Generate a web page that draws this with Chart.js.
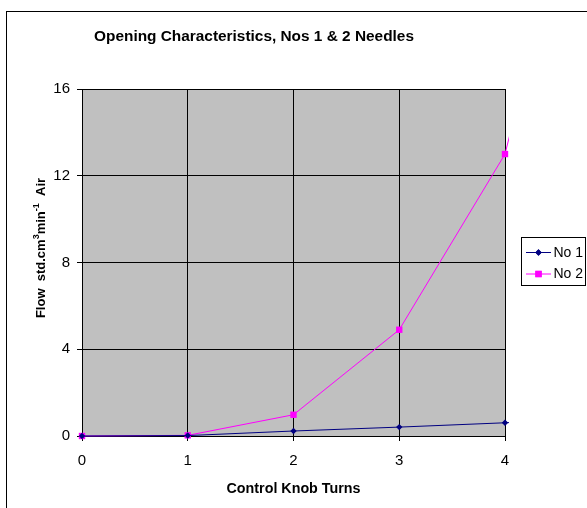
<!DOCTYPE html>
<html>
<head>
<meta charset="utf-8">
<script src="https://cdn.jsdelivr.net/npm/chart.js@4/dist/chart.umd.min.js"></script>
<style>
  html, body { margin: 0; padding: 0; background: #fff; }
  #wrap { width: 587px; height: 508px; }
</style>
</head>
<body>
<div id="wrap"><canvas id="c" width="587" height="508"></canvas></div>
<script>
// ---- data ----
const turns = [0, 1, 2, 3, 4, 5];
const no1 = [0, 0.02, 0.23, 0.41, 0.61, 0.82];
const no2 = [0, 0.03, 0.98, 4.9, 13.0, 32.5];
const seriesNames = ['No 1', 'No 2'];
const xTicks = [0, 1, 2, 3, 4];
const yTicks = [0, 4, 8, 12, 16];
const chartTitle = 'Opening Characteristics, Nos 1 & 2 Needles';
const xTitle = 'Control Knob Turns';
const yTitleParts = [['Flow  std.cm', false], ['3', true], ['min', false], ['-1', true], ['  Air', false]];

const FONT = '"Liberation Sans", Arial, sans-serif';
const colors = ['#000080', '#FF00FF'];
const styles = ['rectRot', 'rect'];
const radii = [3.2, 4.5];

const toXY = (vals) => turns.map((t, i) => ({ x: t, y: vals[i] }));

const decor = {
  id: 'decor',
  beforeDraw(chart) {
    const { ctx, chartArea: a } = chart;
    ctx.save();
    ctx.fillStyle = '#fff';
    ctx.fillRect(0, 0, chart.width, chart.height);
    ctx.fillStyle = '#C0C0C0';
    ctx.fillRect(a.left, a.top, a.right - a.left, a.bottom - a.top);
    ctx.strokeStyle = '#000';
    ctx.lineWidth = 1;
    ctx.strokeRect(6.5, 11.5, 800, 800);
    ctx.restore();
  },
  afterDraw(chart) {
    const { ctx, chartArea: a } = chart;
    ctx.save();
    ctx.fillStyle = '#000';
    // chart title
    ctx.font = 'bold 15.4px ' + FONT;
    ctx.textAlign = 'center';
    ctx.textBaseline = 'alphabetic';
    ctx.fillText(chartTitle, 254, 41);
    // x axis title
    ctx.font = 'bold 14.3px ' + FONT;
    ctx.fillText(xTitle, (a.left + a.right) / 2, 493);
    // y axis title (rotated, with superscripts)
    const mainF = 'bold 13px ' + FONT, supF = 'bold 9px ' + FONT;
    let total = 0;
    yTitleParts.forEach(([t, s]) => { ctx.font = s ? supF : mainF; total += ctx.measureText(t).width; });
    ctx.translate(45, 248);
    ctx.rotate(-Math.PI / 2);
    ctx.textAlign = 'left';
    let x = -total / 2;
    yTitleParts.forEach(([t, s]) => {
      ctx.font = s ? supF : mainF;
      ctx.fillText(t, x, s ? -6.5 : 0);
      x += ctx.measureText(t).width;
    });
    ctx.restore();

    // legend
    ctx.save();
    ctx.strokeStyle = '#000';
    ctx.lineWidth = 1;
    ctx.strokeRect(521.5, 237.5, 64, 48);
    const ys = [252.5, 274];
    ctx.font = '14px ' + FONT;
    ctx.textBaseline = 'middle';
    ctx.textAlign = 'left';
    seriesNames.forEach((n, i) => {
      ctx.strokeStyle = colors[i];
      ctx.beginPath();
      ctx.moveTo(526, ys[i]);
      ctx.lineTo(551, ys[i]);
      ctx.stroke();
      ctx.fillStyle = colors[i];
      Chart.helpers.drawPoint(ctx, { pointStyle: styles[i], radius: radii[i], rotation: 0, borderWidth: 0 }, 538.5, ys[i]);
      ctx.fill();
      ctx.fillStyle = '#000';
      ctx.fillText(n, 553.5, ys[i] + 0.5);
    });
    ctx.restore();
  }
};

new Chart(document.getElementById('c'), {
  type: 'line',
  data: {
    datasets: [no1, no2].map((v, i) => ({
      label: seriesNames[i],
      data: toXY(v),
      borderColor: colors[i],
      backgroundColor: colors[i],
      borderWidth: 1,
      pointStyle: styles[i],
      pointRadius: radii[i],
      pointBorderWidth: 0,
      pointBackgroundColor: colors[i],
      tension: 0,
      clip: { left: 6, top: 6, right: 4, bottom: 6 }
    }))
  },
  options: {
    responsive: false,
    animation: false,
    devicePixelRatio: 1,
    layout: { padding: { left: 0, right: 82, top: 89, bottom: 0 } },
    plugins: { legend: { display: false }, title: { display: false }, tooltip: { enabled: false } },
    scales: {
      x: {
        type: 'linear',
        afterDataLimits: (s) => { s.min = xTicks[0]; s.max = xTicks[xTicks.length - 1]; },
        afterBuildTicks: (s) => { s.min = xTicks[0]; s.max = xTicks[xTicks.length - 1]; s.ticks = xTicks.map(v => ({ value: v })); },
        afterFit: (s) => { s.height = 72; },
        ticks: { color: '#000', font: { family: FONT, size: 15 }, padding: 11, maxRotation: 0 },
        grid: { color: '#000', lineWidth: 1, tickLength: 5, tickColor: '#000' },
        border: { color: '#000', width: 1 }
      },
      y: {
        type: 'linear',
        min: 0, max: 16,
        afterBuildTicks: (s) => { s.ticks = yTicks.map(v => ({ value: v })); },
        afterFit: (s) => { s.width = 82; },
        ticks: { color: '#000', font: { family: FONT, size: 15 }, padding: 7 },
        grid: { color: '#000', lineWidth: 1, tickLength: 5, tickColor: '#000' },
        border: { color: '#000', width: 1 }
      }
    }
  },
  plugins: [decor]
});
</script>
</body>
</html>
